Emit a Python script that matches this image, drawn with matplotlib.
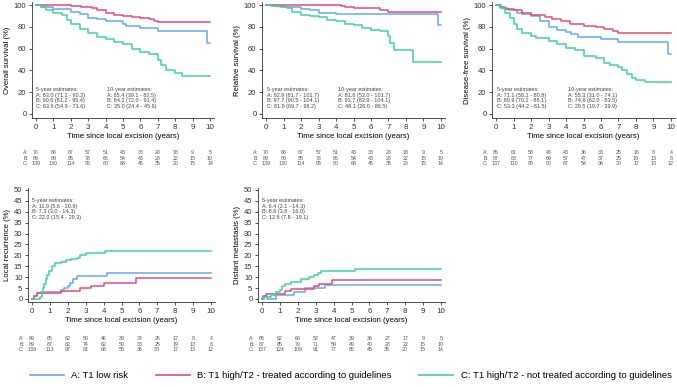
import matplotlib
matplotlib.use("Agg")
import matplotlib.pyplot as plt
from matplotlib.lines import Line2D
from matplotlib import transforms

plt.rcParams["font.family"] = ["Liberation Sans", "DejaVu Sans"]

W, H = 677, 387

BLUE = "#62a8f5"
PINK = "#e64a7b"
GREEN = "#40d48f"
GREY = "#555555"

years = list(range(11))

# --- overall survival (step points: time, %) ---
os_a_t = [0, 0.3, 1.0, 2.0, 2.5, 3.0, 3.5, 4.0, 5.0, 5.2, 6.0, 7.0, 9.85, 10]
os_a_s = [100, 98, 96, 94, 92, 88, 87, 85, 83, 81, 79, 76, 65.4, 65.4]
os_b_t = [0, 2.0, 2.6, 3.2, 3.5, 4.0, 4.5, 5.0, 5.5, 6.0, 6.5, 6.8, 7.0, 10]
os_b_s = [100, 99, 98, 97, 95, 93, 91, 90, 89, 88, 87, 85, 84.2, 84.2]
os_c_t = [0, 0.3, 0.6, 1.0, 1.5, 1.8, 2.0, 2.5, 3.0, 3.5, 4.0, 4.5, 5.0, 5.5, 6.0, 6.5,
          7.0, 7.2, 7.5, 8.0, 8.4, 10]
os_c_s = [100, 98, 95, 93, 91, 86, 83, 78, 74, 71, 68.5, 66, 63.9, 60, 57, 55,
          50, 45, 40, 38, 35, 35]

# --- relative survival ---
rs_a_t = [0, 0.5, 1.0, 2.0, 2.5, 3.0, 4.0, 5.0, 9.85, 10]
rs_a_s = [100, 99, 98, 96, 95, 93, 92, 91.4, 81.6, 81.6]
rs_b_t = [0, 4.3, 4.5, 5.0, 6.0, 6.5, 7.0, 10]
rs_b_s = [100, 99, 98, 97.7, 97, 95, 93.7, 93.7]
rs_c_t = [0, 0.3, 0.8, 1.2, 1.5, 2.0, 2.5, 3.0, 3.5, 4.0, 4.5, 5.0, 5.5, 6.0, 6.5,
          7.0, 7.1, 7.3, 8.4, 10]
rs_c_s = [100, 99, 98, 97, 94, 91, 90, 89, 86, 85, 83, 81.9, 79, 77, 76,
          72, 65, 59, 48.1, 48.1]

# --- disease-free survival ---
dfs_a_t = [0, 0.3, 0.7, 1.2, 1.5, 2.0, 2.5, 3.0, 3.5, 4.0, 4.3, 4.7, 6.0, 7.0, 9.85, 10]
dfs_a_s = [100, 97, 95, 93, 92, 90, 85, 80, 77, 75, 73, 71.1, 69, 66, 55.3, 55.3]
dfs_b_t = [0, 0.2, 0.5, 1.0, 1.5, 2.0, 2.8, 3.2, 3.7, 4.2, 5.0, 5.7, 6.2, 6.7, 7.0, 10]
dfs_b_s = [100, 98, 96, 95, 93, 91, 89, 87, 85, 83, 80.9, 80, 78, 76, 74.6, 74.6]
dfs_c_t = [0, 0.2, 0.5, 0.8, 1.0, 1.2, 1.5, 2.0, 2.3, 3.0, 3.5, 4.0, 4.5, 5.0, 5.7,
           6.2, 6.5, 7.0, 7.2, 7.5, 7.8, 8.0, 8.5, 10]
dfs_c_s = [100, 97, 93, 88, 83, 78, 74, 72, 70, 67, 64, 61, 59, 53.3, 51,
           47, 45, 43, 40, 37, 33, 31, 29.5, 29.5]

# --- local recurrence (cumulative %) ---
lr_a_t = [0, 0.1, 0.3, 0.5, 1.6, 1.8, 2.0, 2.1, 2.3, 2.5, 4.2, 10]
lr_a_s = [0, 1.5, 2.5, 3.0, 4.0, 5.0, 6.0, 7.5, 9.0, 10.5, 11.9, 11.9]
lr_b_t = [0, 0.1, 0.3, 1.6, 2.7, 3.3, 4.0, 5.8, 10]
lr_b_s = [0, 1.3, 2.5, 3.5, 5.0, 6.0, 7.3, 9.5, 9.5]
lr_c_t = [0, 0.45, 0.55, 0.6, 0.65, 0.75, 0.85, 0.95, 1.1, 1.3, 1.6, 1.9, 2.2,
          2.5, 2.7, 3.0, 4.1, 10]
lr_c_s = [0, 1, 3, 5, 7, 9, 11, 13, 15, 16.5, 17, 18, 18.5,
          19, 20, 21, 22.0, 22.0]

# --- distant metastasis (cumulative %) ---
dm_a_t = [0, 0.1, 0.3, 0.8, 1.8, 2.4, 3.5, 10]
dm_a_s = [0, 1.2, 0, 2.0, 3.3, 5.0, 6.4, 6.4]
dm_b_t = [0, 0.05, 0.2, 1.3, 1.6, 2.9, 3.2, 3.9, 10]
dm_b_s = [0, 1.2, 2.3, 3.5, 4.5, 5.8, 7.0, 8.6, 8.6]
dm_c_t = [0, 0.1, 0.5, 0.8, 1.0, 1.1, 1.3, 1.6, 2.2, 2.6, 2.9, 3.1, 3.3, 5.2, 10]
dm_c_s = [0, 1, 2, 3, 4, 6, 7, 8, 9, 10, 11, 12, 12.8, 13.9, 13.9]

# --- numbers at risk ---
risk_os_a = [70, 68, 67, 57, 51, 43, 38, 28, 18, 9, 5]
risk_os_b = [89, 89, 85, 78, 66, 54, 43, 28, 22, 15, 10]
risk_os_c = [139, 130, 114, 95, 80, 68, 45, 35, 20, 15, 14]
risk_dfs_a = [65, 61, 58, 48, 43, 36, 33, 25, 16, 8, 4]
risk_dfs_b = [87, 83, 77, 69, 57, 47, 37, 25, 19, 13, 8]
risk_dfs_c = [137, 110, 95, 80, 67, 54, 36, 30, 17, 13, 12]
risk_lr_a = [69, 65, 62, 50, 46, 39, 34, 26, 17, 8, 4]
risk_lr_b = [89, 87, 82, 74, 62, 50, 38, 25, 19, 13, 8]
risk_lr_c = [139, 113, 97, 81, 68, 55, 36, 30, 17, 13, 12]
risk_dm_a = [65, 62, 60, 52, 47, 39, 36, 27, 17, 9, 5]
risk_dm_b = [87, 85, 79, 71, 59, 49, 40, 28, 22, 15, 10]
risk_dm_c = [137, 124, 109, 91, 77, 65, 45, 35, 20, 15, 14]

# --- estimate boxes ---
os_est5 = ["A: 83.0 (71.2 - 90.2)", "B: 90.6 (81.2 - 95.4)", "C: 63.9 (54.9 - 71.6)"]
os_est10 = ["A: 65.4 (39.1 - 82.5)", "B: 84.2 (72.0 - 91.4)", "C: 35.0 (24.4 - 45.6)"]
rs_est5 = ["A: 92.9 (81.7 - 101.7)", "B: 97.7 (90.5 - 104.1)", "C: 81.9 (69.7 - 96.2)"]
rs_est10 = ["A: 81.6 (53.0 - 101.7)", "B: 93.7 (82.9 - 104.1)", "C: 48.1 (26.0 - 86.5)"]
dfs_est5 = ["A: 71.1 (58.1 - 80.8)", "B: 80.9 (70.2 - 88.1)", "C: 53.3 (44.2 - 61.5)"]
dfs_est10 = ["A: 55.3 (31.0 - 74.1)", "B: 74.6 (62.0 - 83.5)", "C: 29.5 (19.7 - 39.9)"]
lr_est5 = ["A: 11.9 (5.6 - 20.9)", "B: 7.3 (3.0 - 14.3)", "C: 22.0 (15.4 - 29.3)"]
dm_est5 = ["A: 6.4 (2.1 - 14.3)", "B: 8.6 (3.8 - 16.0)", "C: 12.8 (7.8 - 19.1)"]

legend_labels = ["A: T1 low risk",
                 "B: T1 high/T2 - treated according to guidelines",
                 "C: T1 high/T2 - not treated according to guidelines"]

fig = plt.figure(figsize=(W / 100, H / 100), dpi=100)


def px_axes(left, top, right, bottom):
    return fig.add_axes([left / W, 1 - bottom / H, (right - left) / W, (bottom - top) / H])


def panel(rect, curves, ylabel, ymax, ystep, risk, risk_y, est_blocks, est_y):
    ax = px_axes(*rect)
    for (t, s), c in zip(curves, (BLUE, PINK, GREEN)):
        ax.step(t, s, where="post", color=c, lw=1.1)
    ax.set_xlim(-0.23, 10.23)
    if ymax == 100:
        ax.set_ylim(-3.7, 102.8)
    else:
        ax.set_ylim(-1.4, 50.9)
    ax.set_xticks(years)
    ax.set_yticks(range(0, ymax + 1, ystep))
    for sp in ("top", "right"):
        ax.spines[sp].set_visible(False)
    for sp in ("left", "bottom"):
        ax.spines[sp].set_linewidth(0.6)
        ax.spines[sp].set_color("#333333")
    ax.tick_params(labelsize=5.5, length=2.5, width=0.6, pad=1.5, colors="#333333")
    ax.tick_params(axis="x", labelsize=5.8)
    ax.set_xlabel("Time since local excision (years)", fontsize=5.6, labelpad=1.5)
    ax.set_ylabel(ylabel, fontsize=5.6, labelpad=2)

    # numbers at risk under the axis
    tr = transforms.blended_transform_factory(ax.transData, fig.transFigure)
    for row, lab, yy in zip(risk, ("A:", "B:", "C:"), risk_y):
        yf = 1 - yy / H
        ax.text(-0.45, yf, lab, transform=tr, fontsize=3.8, color=GREY,
                ha="right", va="center")
        for x, n in zip(years, row):
            ax.text(x, yf, str(n), transform=tr, fontsize=3.8, color=GREY,
                    ha="center", va="center")

    # 5- / 10-year estimates
    for x0, title, lines in est_blocks:
        ax.text(x0, 1 - est_y / H, "\n".join([title] + lines), transform=tr,
                fontsize=4.0, color="#444444", ha="left", va="top", linespacing=1.15)
    return ax


top_risk = [152.5, 158, 163.5]
bot_risk = [338.5, 344, 349.5]

panel((32, 2, 214, 118), [(os_a_t, os_a_s), (os_b_t, os_b_s), (os_c_t, os_c_s)],
      "Overall survival (%)", 100, 20, [risk_os_a, risk_os_b, risk_os_c], top_risk,
      [(0.0, "5-year estimates:", os_est5), (4.1, "10-year estimates:", os_est10)], 87)
panel((262, 2, 445, 118), [(rs_a_t, rs_a_s), (rs_b_t, rs_b_s), (rs_c_t, rs_c_s)],
      "Relative survival (%)", 100, 20, [risk_os_a, risk_os_b, risk_os_c], top_risk,
      [(0.05, "5-year estimates:", rs_est5), (4.1, "10-year estimates:", rs_est10)], 87)
panel((492, 2, 675, 118), [(dfs_a_t, dfs_a_s), (dfs_b_t, dfs_b_s), (dfs_c_t, dfs_c_s)],
      "Disease-free survival (%)", 100, 20, [risk_dfs_a, risk_dfs_b, risk_dfs_c], top_risk,
      [(0.05, "5-year estimates:", dfs_est5), (4.1, "10-year estimates:", dfs_est10)], 87)
panel((28, 188, 215, 302), [(lr_a_t, lr_a_s), (lr_b_t, lr_b_s), (lr_c_t, lr_c_s)],
      "Local recurrence (%)", 50, 5, [risk_lr_a, risk_lr_b, risk_lr_c], bot_risk,
      [(0.0, "5-year estimates:", lr_est5)], 198)
panel((258, 188, 445, 302), [(dm_a_t, dm_a_s), (dm_b_t, dm_b_s), (dm_c_t, dm_c_s)],
      "Distant metastasis (%)", 50, 5, [risk_dm_a, risk_dm_b, risk_dm_c], bot_risk,
      [(0.0, "5-year estimates:", dm_est5)], 198)

handles = [Line2D([], [], color=c, lw=1.2) for c in (BLUE, PINK, GREEN)]
fig.legend(handles, legend_labels, loc="center", bbox_to_anchor=(0.518, 1 - 376 / H),
           ncol=3, frameon=False, fontsize=6.8, handlelength=3.6, handletextpad=0.8,
           columnspacing=2.9)

fig.savefig("out.png", dpi=100)
